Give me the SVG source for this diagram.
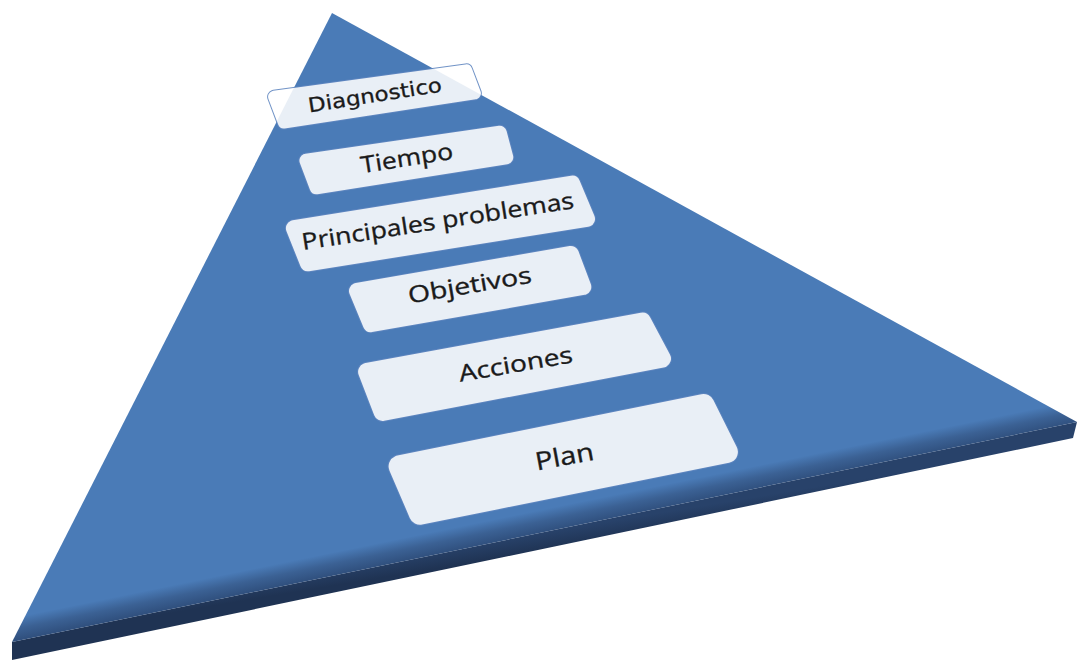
<svg xmlns="http://www.w3.org/2000/svg" width="1080" height="661" viewBox="0 0 1080 661">
  <defs>
    <linearGradient id="faceGrad" gradientUnits="userSpaceOnUse" x1="545" y1="532" x2="540.5" y2="510">
      <stop offset="0" stop-color="#30507e"/>
      <stop offset="0.5" stop-color="#3b6194"/>
      <stop offset="1" stop-color="#4a7bb7"/>
    </linearGradient>
    <linearGradient id="sideGrad" gradientUnits="userSpaceOnUse" x1="545" y1="532" x2="548" y2="550">
      <stop offset="0" stop-color="#28426a"/>
      <stop offset="1" stop-color="#1f3353"/>
    </linearGradient>
  </defs>
  <style>
    .box { opacity: 0.88; }
    .rim { fill: #5f86c0; stroke: #5f86c0; stroke-linejoin: round; }
    .card { fill: #ffffff; stroke: #ffffff; stroke-linejoin: round; }
    .lbl { font-family: "Open Sans", "Liberation Sans", sans-serif; fill: #1a1a1a; stroke: #1a1a1a; stroke-width: 0.35; text-anchor: middle; }
    .lbl2 { font-family: "DejaVu Sans", "Liberation Sans", sans-serif; fill: #1a1a1a; stroke: #1a1a1a; stroke-width: 0.3; text-anchor: middle; }
  </style>

  <g id="pyramid">
    <polygon points="12,642 1077,422 1073,438 12,660" fill="url(#sideGrad)"/>
    <polygon points="332,13 1077,422 12,642" fill="url(#faceGrad)"/>
  </g>

  <g id="node-diagnostico">
    <g class="box">
      <polygon class="rim" stroke-width="14" points="274.1,96.8 466.2,70.4 474.9,93.3 283.8,122.5"/>
      <polygon class="card" stroke-width="12" points="274.1,96.8 466.2,70.4 474.9,93.3 283.8,122.5"/>
    </g>
    <text class="lbl2" x="376" y="102" font-size="20" textLength="135" lengthAdjust="spacingAndGlyphs" transform="rotate(-9 376 102)">Diagnostico</text>
  </g>

  <g id="node-tiempo">
    <g class="box">
      <polygon class="rim" stroke-width="16" points="306.4,160.6 499.8,132.8 506.3,157.3 316.5,187.3"/>
      <polygon class="card" stroke-width="14" points="306.4,160.6 499.8,132.8 506.3,157.3 316.5,187.3"/>
    </g>
    <text class="lbl" x="408" y="166" font-size="23" textLength="93" lengthAdjust="spacingAndGlyphs" transform="rotate(-8.9 408 166)">Tiempo</text>
  </g>

  <g id="node-principales">
    <g class="box">
      <polygon class="rim" stroke-width="18" points="293.9,228.2 572.2,183.6 587,218.9 307.9,263.3"/>
      <polygon class="card" stroke-width="16" points="293.9,228.2 572.2,183.6 587,218.9 307.9,263.3"/>
    </g>
    <text class="lbl" x="439" y="229" font-size="23" textLength="275" lengthAdjust="spacingAndGlyphs" transform="rotate(-8.8 439 229)">Principales problemas</text>
  </g>

  <g id="node-objetivos">
    <g class="box">
      <polygon class="rim" stroke-width="18" points="357,291 570.9,253.9 583.3,286.9 370.8,324.2"/>
      <polygon class="card" stroke-width="16" points="357,291 570.9,253.9 583.3,286.9 370.8,324.2"/>
    </g>
    <text class="lbl" x="471" y="293" font-size="23" textLength="125" lengthAdjust="spacingAndGlyphs" transform="rotate(-9.7 471 293)">Objetivos</text>
  </g>

  <g id="node-acciones">
    <g class="box">
      <polygon class="rim" stroke-width="20" points="367.1,371.8 642.3,321.6 662,358.7 382.6,411.9"/>
      <polygon class="card" stroke-width="18" points="367.1,371.8 642.3,321.6 662,358.7 382.6,411.9"/>
    </g>
    <text class="lbl" x="517" y="372" font-size="23" textLength="115" lengthAdjust="spacingAndGlyphs" transform="rotate(-9.7 517 372)">Acciones</text>
  </g>

  <g id="node-plan">
    <g class="box">
      <polygon class="rim" stroke-width="24" points="399.6,466.3 703.5,405 726.9,451.9 420,513.8"/>
      <polygon class="card" stroke-width="22" points="399.6,466.3 703.5,405 726.9,451.9 420,513.8"/>
    </g>
    <text class="lbl" x="566" y="465" font-size="25" textLength="59" lengthAdjust="spacingAndGlyphs" transform="rotate(-10.5 566 465)">Plan</text>
  </g>
</svg>
